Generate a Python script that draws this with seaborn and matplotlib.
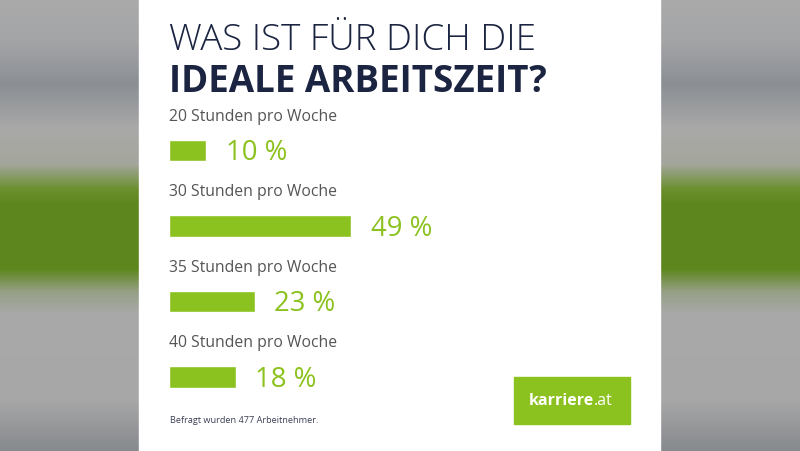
import matplotlib
matplotlib.use("Agg")
import matplotlib.pyplot as plt
import numpy as np
import pandas as pd
import seaborn as sns
from matplotlib.patches import Rectangle

# chart data
categories = ["20 Stunden pro Woche", "30 Stunden pro Woche",
              "35 Stunden pro Woche", "40 Stunden pro Woche"]
shares = [10, 49, 23, 18]
title_top = "WAS IST FÜR DICH DIE"
title_bottom = "IDEALE ARBEITSZEIT?"
footnote = "Befragt wurden 477 Arbeitnehmer."

GREEN = "#8cc21f"
NAVY = "#1b2440"
GREY = "#555555"

sns.set_theme(style="white")
plt.rcParams["font.family"] = ["Open Sans", "DejaVu Sans"]

W, H = 800, 452
fig = plt.figure(figsize=(8, 4.52), dpi=100)

# blurred video background behind the graphic
bg = fig.add_axes([0, 0, 1, 1])
stops_y = [0, 40, 85, 130, 165, 190, 205, 270, 292, 315, 400, 452]
stops_c = ["#aaaaaa", "#a4a5a7", "#8b8f94", "#a9a9a9", "#a3a69b", "#6a8f2c",
           "#5e861f", "#5f871f", "#95a085", "#a9a9a9", "#a7a7a7", "#86898d"]
rgb = np.array([matplotlib.colors.to_rgb(c) for c in stops_c])
ys = np.arange(H)
grad = np.stack([np.interp(ys, stops_y, rgb[:, k]) for k in range(3)], axis=-1)
img = np.repeat(grad[:, None, :], W, axis=1)
bg.imshow(img, extent=[0, W, H, 0], aspect="auto")
bg.add_patch(Rectangle((139, 0), 521, H, color="white"))
bg.set_xlim(0, W)
bg.set_ylim(H, 0)
bg.axis("off")

# bar chart area: x=0 at px 169, 3.72 px per percent
px_per = 3.72
x_max = 130
y_top, y_bot = -1.6, 3.6
row0, step = 151.5, 75.5
top_px = row0 + y_top * step
bot_px = row0 + y_bot * step
ax = fig.add_axes([169 / W, 1 - bot_px / H, x_max * px_per / W, (bot_px - top_px) / H])
df = pd.DataFrame({"cat": categories, "share": shares})
sns.barplot(data=df, x="share", y="cat", color=GREEN, width=0.29,
            saturation=1, ax=ax)
ax.set_xlim(0, x_max)
ax.set_ylim(y_bot, y_top)
ax.axis("off")

for i, (cat, v) in enumerate(zip(categories, shares)):
    ax.text(0, i - 0.46, cat, ha="left", va="center", fontsize=11.3, color=GREY)
    ax.text(v + 5.2, i + 0.02, f"{v} %", ha="left", va="center", fontsize=19.8,
            color=GREEN, fontweight="medium")

fig.text(169 / W, 1 - 40 / H, title_top, ha="left", va="center", fontsize=26.5,
         color=NAVY, fontweight="light")
fig.text(169 / W, 1 - 82 / H, title_bottom, ha="left", va="center", fontsize=26.5,
         color=NAVY, fontweight="bold")
fig.text(170 / W, 1 - 421 / H, footnote, ha="left", va="center", fontsize=6.6,
         color="#3a4055")

# logo box
bg.add_patch(Rectangle((514, 378), 116, 47, color=GREEN))
t1 = bg.text(529, 401, "karriere", ha="left", va="center", fontsize=11.5,
             color="white", fontweight="bold")
fig.canvas.draw()
ext = t1.get_window_extent()
x_end = bg.transData.inverted().transform((ext.x1, ext.y0))[0]
bg.text(x_end, 401, ".at", ha="left", va="center", fontsize=11.5, color="white")

fig.savefig("out.png", dpi=100)
